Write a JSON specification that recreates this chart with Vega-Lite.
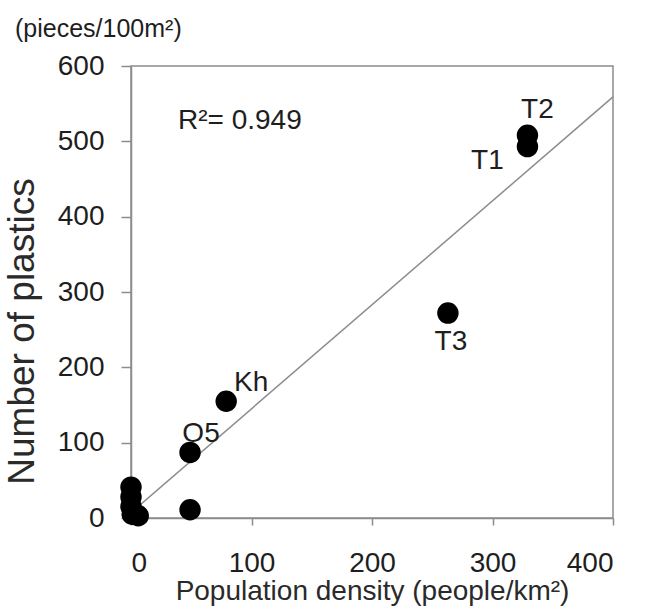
{
  "$schema": "https://vega.github.io/schema/vega-lite/v6.json",
  "width": 482,
  "height": 452,
  "autosize": {"type": "none"},
  "padding": {"left": 131, "top": 66, "right": 33, "bottom": 92},
  "background": "white",
  "config": {
    "font": "Liberation Sans",
    "view": {"stroke": "#8c8c8c", "strokeWidth": 1.5},
    "axis": {"grid": false, "domainColor": "#8c8c8c", "domainWidth": 1.5, "tickColor": "#8c8c8c", "tickWidth": 1.5, "labelFont": "Liberation Sans", "labelFontSize": 28, "labelColor": "#1e1e1e", "titleFont": "Liberation Sans", "titleFontWeight": "normal", "titleColor": "#2a2a2a"}
  },
  "title": {"text": "(pieces/100m²)", "anchor": "start", "frame": "group", "dx": -116, "offset": 10, "fontSize": 25, "fontWeight": "normal", "color": "#1e1e1e", "font": "Liberation Sans"},
  "datasets": {
    "pts": [
      {"site": "T2", "density": 329, "plastics": 508},
      {"site": "T1", "density": 329, "plastics": 493},
      {"site": "T3", "density": 263, "plastics": 272},
      {"site": "Kh", "density": 79, "plastics": 155},
      {"site": "O5", "density": 49, "plastics": 87},
      {"site": "a", "density": 49, "plastics": 11},
      {"site": "b", "density": 0, "plastics": 41},
      {"site": "c", "density": 0, "plastics": 28},
      {"site": "d", "density": 0, "plastics": 15},
      {"site": "e", "density": 1, "plastics": 5},
      {"site": "f", "density": 6, "plastics": 3}
    ],
    "fit": [
      {"density": 0, "plastics": 7},
      {"density": 400, "plastics": 559}
    ]
  },
  "layer": [
    {
      "data": {"name": "fit"},
      "mark": {"type": "line", "color": "#8c8c8c", "strokeWidth": 1.5},
      "encoding": {
        "x": {"field": "density", "type": "quantitative", "scale": {"domain": [0, 400]}, "axis": {"values": [0, 100, 200, 300, 400], "title": "Population density (people/km²)", "titleFontSize": 28, "titlePadding": 0, "tickSize": 7, "labelPadding": 24}},
        "y": {"field": "plastics", "type": "quantitative", "scale": {"domain": [0, 600]}, "axis": {"values": [0, 100, 200, 300, 400, 500, 600], "title": "Number of plastics", "titleFontSize": 37, "titlePadding": 16, "titleY": 265, "tickSize": 10, "labelPadding": 17}}
      }
    },
    {
      "data": {"name": "pts"},
      "mark": {"type": "circle", "color": "#000000", "opacity": 1, "size": 460},
      "encoding": {
        "x": {"field": "density", "type": "quantitative"},
        "y": {"field": "plastics", "type": "quantitative"}
      }
    },
    {
      "data": {"name": "pts"},
      "transform": [{"filter": "datum.site === 'T2'"}],
      "mark": {"type": "text", "fontSize": 28, "color": "#1e1e1e", "dx": 10, "dy": -25},
      "encoding": {"x": {"field": "density", "type": "quantitative"}, "y": {"field": "plastics", "type": "quantitative"}, "text": {"field": "site"}}
    },
    {
      "data": {"name": "pts"},
      "transform": [{"filter": "datum.site === 'T1'"}],
      "mark": {"type": "text", "fontSize": 28, "color": "#1e1e1e", "dx": -40, "dy": 14},
      "encoding": {"x": {"field": "density", "type": "quantitative"}, "y": {"field": "plastics", "type": "quantitative"}, "text": {"field": "site"}}
    },
    {
      "data": {"name": "pts"},
      "transform": [{"filter": "datum.site === 'T3'"}],
      "mark": {"type": "text", "fontSize": 28, "color": "#1e1e1e", "dx": 3, "dy": 29},
      "encoding": {"x": {"field": "density", "type": "quantitative"}, "y": {"field": "plastics", "type": "quantitative"}, "text": {"field": "site"}}
    },
    {
      "data": {"name": "pts"},
      "transform": [{"filter": "datum.site === 'Kh'"}],
      "mark": {"type": "text", "fontSize": 28, "color": "#1e1e1e", "dx": 25, "dy": -18},
      "encoding": {"x": {"field": "density", "type": "quantitative"}, "y": {"field": "plastics", "type": "quantitative"}, "text": {"field": "site"}}
    },
    {
      "data": {"name": "pts"},
      "transform": [{"filter": "datum.site === 'O5'"}],
      "mark": {"type": "text", "fontSize": 28, "color": "#1e1e1e", "dx": 11, "dy": -18},
      "encoding": {"x": {"field": "density", "type": "quantitative"}, "y": {"field": "plastics", "type": "quantitative"}, "text": {"field": "site"}}
    },
    {
      "data": {"values": [{"density": 39, "plastics": 517, "label": "R²= 0.949"}]},
      "mark": {"type": "text", "fontSize": 28, "color": "#1e1e1e", "align": "left", "baseline": "alphabetic"},
      "encoding": {"x": {"field": "density", "type": "quantitative"}, "y": {"field": "plastics", "type": "quantitative"}, "text": {"field": "label"}}
    }
  ]
}
